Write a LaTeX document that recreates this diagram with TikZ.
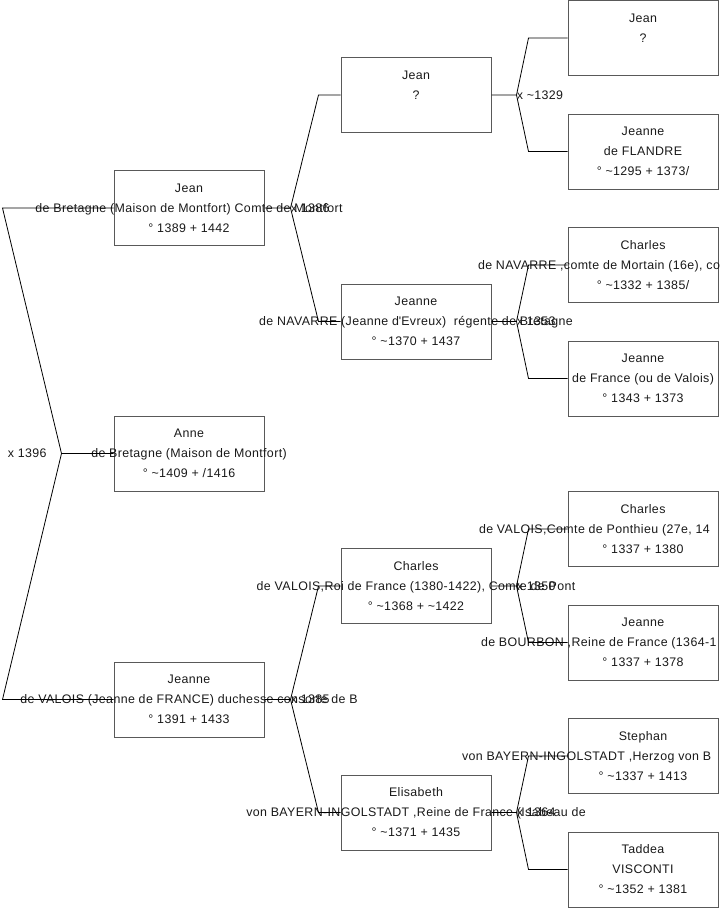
\documentclass[tikz,border=0pt]{standalone}
\usepackage{fontspec}
\setmainfont[LetterSpace=3]{Liberation Sans}
\usetikzlibrary{positioning}

\newcommand{\ca}{\textasciitilde}
\newcommand{\cutline}[2]{\makebox[#1pt][l]{#2}}

\begin{document}
\begin{tikzpicture}[
    x=0.75pt, y=-0.75pt,
    person/.style={rectangle, draw=black!65, line width=0.75pt, minimum width=112.5pt, minimum height=56.25pt, inner sep=0pt, align=center, font=\fontsize{9.3}{15}\selectfont, text=black!90},
    link/.style={black, line width=0.6pt},
    mlabel/.style={font=\fontsize{9.3}{15}\selectfont, inner sep=0pt, text=black!90}
]
\useasboundingbox (0,0) rectangle (719,908);

% ==========================
% GENERATION 1 (Anne et parents)
% ==========================
\foreach \n/\y/\first/\mid/\last in {
    2/208/Jean/{de Bretagne (Maison de Montfort) Comte de Montfort}/{° 1389 + 1442},
    1/453.5/Anne/{de Bretagne (Maison de Montfort)}/{° \ca1409 + /1416},
    3/699.5/Jeanne/{de VALOIS (Jeanne de FRANCE) duchesse consorte de B}/{° 1391 + 1433}
} {
    \node[person] (P-\n) at (189,\y) {\strut\first\\\strut\makebox[0pt]{\mid}\\\strut\last};
}

% ==========================
% GRANDS-PARENTS
% ==========================
\foreach \n/\y/\first/\mid/\last in {
    4/95/Jean/?/{},
    5/321.5/Jeanne/{de NAVARRE (Jeanne d\textquotesingle Evreux) \ régente de Bretagne}/{° \ca1370 + 1437},
    6/586/Charles/{de VALOIS,Roi de France (1380-1422), Comte de Pont}/{° \ca1368 + \ca1422},
    7/812.5/Elisabeth/{von BAYERN-INGOLSTADT ,Reine de France (Isabeau de}/{° \ca1371 + 1435}
} {
    \node[person] (P-\n) at (416,\y) {\strut\first\\\strut\makebox[0pt]{\mid}\\\strut\last};
}

% ==========================
% ARRIERE-GRANDS-PARENTS
% ==========================
\foreach \n/\y/\first/\mid/\last in {
    8/38/Jean/?/{},
    9/151.5/Jeanne/{de FLANDRE}/{° \ca1295 + 1373/},
    10/265/Charles/{\cutline{247.5}{de NAVARRE ,comte de Mortain (16e), co}}/{° \ca1332 + 1385/},
    11/378.5/Jeanne/{de France (ou de Valois)}/{° 1343 + 1373},
    12/529/Charles/{\cutline{246}{de VALOIS,Comte de Ponthieu (27e, 14}}/{° 1337 + 1380},
    13/642.5/Jeanne/{\cutline{243}{de BOURBON ,Reine de France (1364-1}}/{° 1337 + 1378},
    14/756/Stephan/{\cutline{271.5}{von BAYERN-INGOLSTADT ,Herzog von B}}/{° \ca1337 + 1413},
    15/869.5/Taddea/VISCONTI/{° \ca1352 + 1381}
} {
    \node[person] (P-\n) at (643,\y) {\strut\first\\\strut\makebox[0pt]{\mid}\\\strut\last};
}

% ==========================
% UNIONS
% ==========================
\coordinate (B-1) at ([xshift=-39pt]P-1.west);
\draw[link] (P-1.west) -- (B-1) -- ([xshift=-83.25pt]P-2.west) -- (P-2.west);
\draw[link] (B-1) -- ([xshift=-83.25pt]P-3.west) -- (P-3.west);
\node[mlabel, anchor=east] (L-1) at ([xshift=-11pt]B-1) {x 1396};

\foreach \c/\f/\m/\b/\g/\year in {
    2/4/5/26/22/1386, 3/6/7/26/22/1385,
    4/8/9/25/39/{\ca1329}, 5/10/11/25/39/1353,
    6/12/13/25/39/1350, 7/14/15/25/39/1364
} {
    \coordinate (B-\c) at ([xshift=\b*0.75pt]P-\c.east);
    \draw[link] (P-\c.east) -- (B-\c) -- ([xshift=-\g*0.75pt]P-\f.west) -- (P-\f.west);
    \draw[link] (B-\c) -- ([xshift=-\g*0.75pt]P-\m.west) -- (P-\m.west);
    \node[mlabel, anchor=west] (L-\c) at (B-\c) {x \year};
}

\end{tikzpicture}
\end{document}
